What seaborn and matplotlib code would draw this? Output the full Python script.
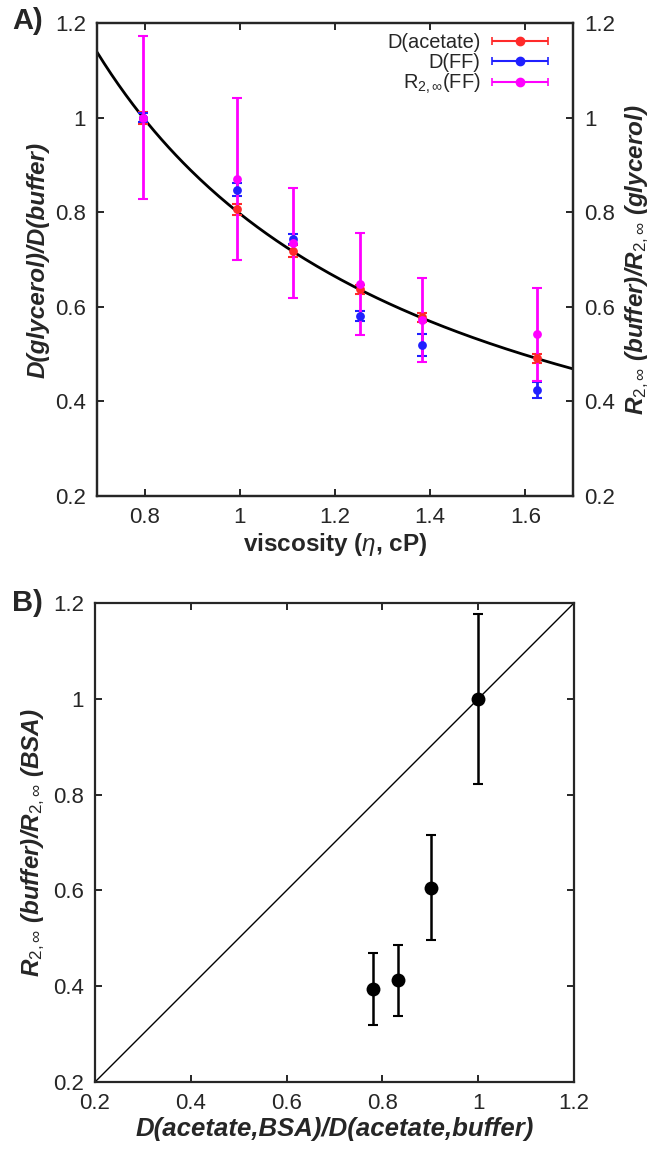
import numpy as np
import pandas as pd
import seaborn as sns
import matplotlib.pyplot as plt
from matplotlib.container import ErrorbarContainer
from matplotlib.legend_handler import HandlerErrorbar

# panel A - glycerol series
viscosity = [0.796, 0.994, 1.112, 1.252, 1.383, 1.624]
d_acetate = [1.0, 0.806, 0.718, 0.637, 0.578, 0.491]
d_acetate_err = [0.013, 0.012, 0.012, 0.010, 0.010, 0.010]
d_ff = [1.0, 0.848, 0.743, 0.581, 0.520, 0.424]
d_ff_err = [0.010, 0.013, 0.010, 0.010, 0.023, 0.017]
r2_ff = [1.0, 0.871, 0.735, 0.648, 0.572, 0.542]
r2_ff_err = [0.173, 0.171, 0.117, 0.108, 0.088, 0.098]
eta_ref = 0.797  # 1/eta (Stokes-Einstein) curve, normalised at buffer viscosity

# panel B - BSA
d_bsa = [0.781, 0.832, 0.901, 1.0]
r2_bsa = [0.394, 0.412, 0.606, 1.0]
r2_bsa_err = [0.075, 0.075, 0.110, 0.178]

sns.set_theme(style="ticks")
plt.rcParams['font.family'] = ['Liberation Sans', 'DejaVu Sans']
plt.rcParams['mathtext.fontset'] = 'custom'
plt.rcParams['mathtext.rm'] = 'Liberation Sans'
plt.rcParams['mathtext.it'] = 'Liberation Sans:italic'
plt.rcParams['mathtext.bf'] = 'Liberation Sans:bold'

RED = '#ff2a2a'
BLUE = '#2020ff'
MAG = '#ff00ff'
FS = 16
LFS = 17.5

fig = plt.figure(figsize=(6.65, 11.53), dpi=100)
axA = fig.add_axes([0.1459, 0.5698, 0.7158, 0.4102])
axB = fig.add_axes([0.1429, 0.0616, 0.7203, 0.4154])

# ---- panel A ----
curve = pd.DataFrame({'eta': np.linspace(0.7, 1.7, 200)})
curve['ratio'] = eta_ref / curve['eta']
sns.lineplot(data=curve, x='eta', y='ratio', color='black', lw=2, ax=axA)

series = [(d_acetate, d_acetate_err, RED, 'D(acetate)'),
          (d_ff, d_ff_err, BLUE, 'D(FF)'),
          (r2_ff, r2_ff_err, MAG, r'R$_{2,\infty}$(FF)')]
handles = []
for vals, errs, col, lab in series:
    axA.errorbar(viscosity, vals, yerr=errs, fmt='none', ecolor=col,
                 elinewidth=2, capsize=3.5, capthick=1.5, zorder=3)
    sns.scatterplot(x=viscosity, y=vals, color=col, s=40, edgecolor=col,
                    linewidth=0, ax=axA, zorder=4)
    h = axA.errorbar([np.nan], [np.nan], xerr=[1], fmt='o', color=col,
                     ms=6, elinewidth=1.5, capsize=3, capthick=1.2)
    handles.append(h)

leg = axA.legend(handles, [s[3] for s in series], loc='upper right',
                 bbox_to_anchor=(0.948, 0.978), frameon=False, markerfirst=False,
                 fontsize=14.4, handlelength=2.8, handletextpad=0.6,
                 labelspacing=0.02, borderaxespad=0, borderpad=0,
                 handler_map={ErrorbarContainer: HandlerErrorbar(xerr_size=1.4)})

axA.set_xlim(0.7, 1.7)
axA.set_ylim(0.2, 1.2)
axA.set_xticks([0.8, 1.0, 1.2, 1.4, 1.6])
axA.set_xticklabels(['0.8', '1', '1.2', '1.4', '1.6'])
yt = [0.2, 0.4, 0.6, 0.8, 1.0, 1.2]
ytl = ['0.2', '0.4', '0.6', '0.8', '1', '1.2']
axA.set_yticks(yt)
axA.set_yticklabels(ytl)
axA.set_xlabel(r'viscosity ($\eta$, cP)', fontsize=LFS, fontweight='bold', labelpad=2)
axA.set_ylabel('D(glycerol)/D(buffer)', fontsize=LFS, fontweight='bold',
               fontstyle='italic', labelpad=4)

axA2 = axA.twinx()
axA2.set_ylim(0.2, 1.2)
axA2.set_yticks(yt)
axA2.set_yticklabels(ytl)
axA2.set_ylabel(r'R$_{2,\infty}$ (buffer)/R$_{2,\infty}$ (glycerol)', fontsize=LFS,
                fontweight='bold', fontstyle='italic', labelpad=6)

# ---- panel B ----
diag = pd.DataFrame({'x': [0.2, 1.2], 'y': [0.2, 1.2]})
sns.lineplot(data=diag, x='x', y='y', color='black', lw=1, ax=axB)
axB.errorbar(d_bsa, r2_bsa, yerr=r2_bsa_err, fmt='none', ecolor='black',
             elinewidth=1.8, capsize=3.5, capthick=1.5, zorder=3)
sns.scatterplot(x=d_bsa, y=r2_bsa, color='black', s=100, linewidth=0, ax=axB, zorder=4)
axB.set_xlim(0.2, 1.2)
axB.set_ylim(0.2, 1.2)
axB.set_xticks(yt)
axB.set_xticklabels(ytl)
axB.set_yticks(yt)
axB.set_yticklabels(ytl)
axB.set_xlabel('D(acetate,BSA)/D(acetate,buffer)', fontsize=18.5, fontweight='bold',
               fontstyle='italic', labelpad=2)
axB.set_ylabel(r'R$_{2,\infty}$ (buffer)/R$_{2,\infty}$ (BSA)', fontsize=LFS,
               fontweight='bold', fontstyle='italic', labelpad=4)

for ax in (axA, axA2, axB):
    for sp in ax.spines.values():
        sp.set_linewidth(1.6)
        sp.set_visible(True)
    ax.tick_params(direction='in', length=5, width=1.4, labelsize=FS, pad=8,
                   top=True, right=True)
axA.tick_params(right=False)
axA2.tick_params(left=False, top=False, bottom=False, right=True)

fig.text(0.018, 0.982, 'A)', fontsize=21, fontweight='bold', va='center')
fig.text(0.018, 0.477, 'B)', fontsize=21, fontweight='bold', va='center')

fig.savefig('out.png', dpi=100)
